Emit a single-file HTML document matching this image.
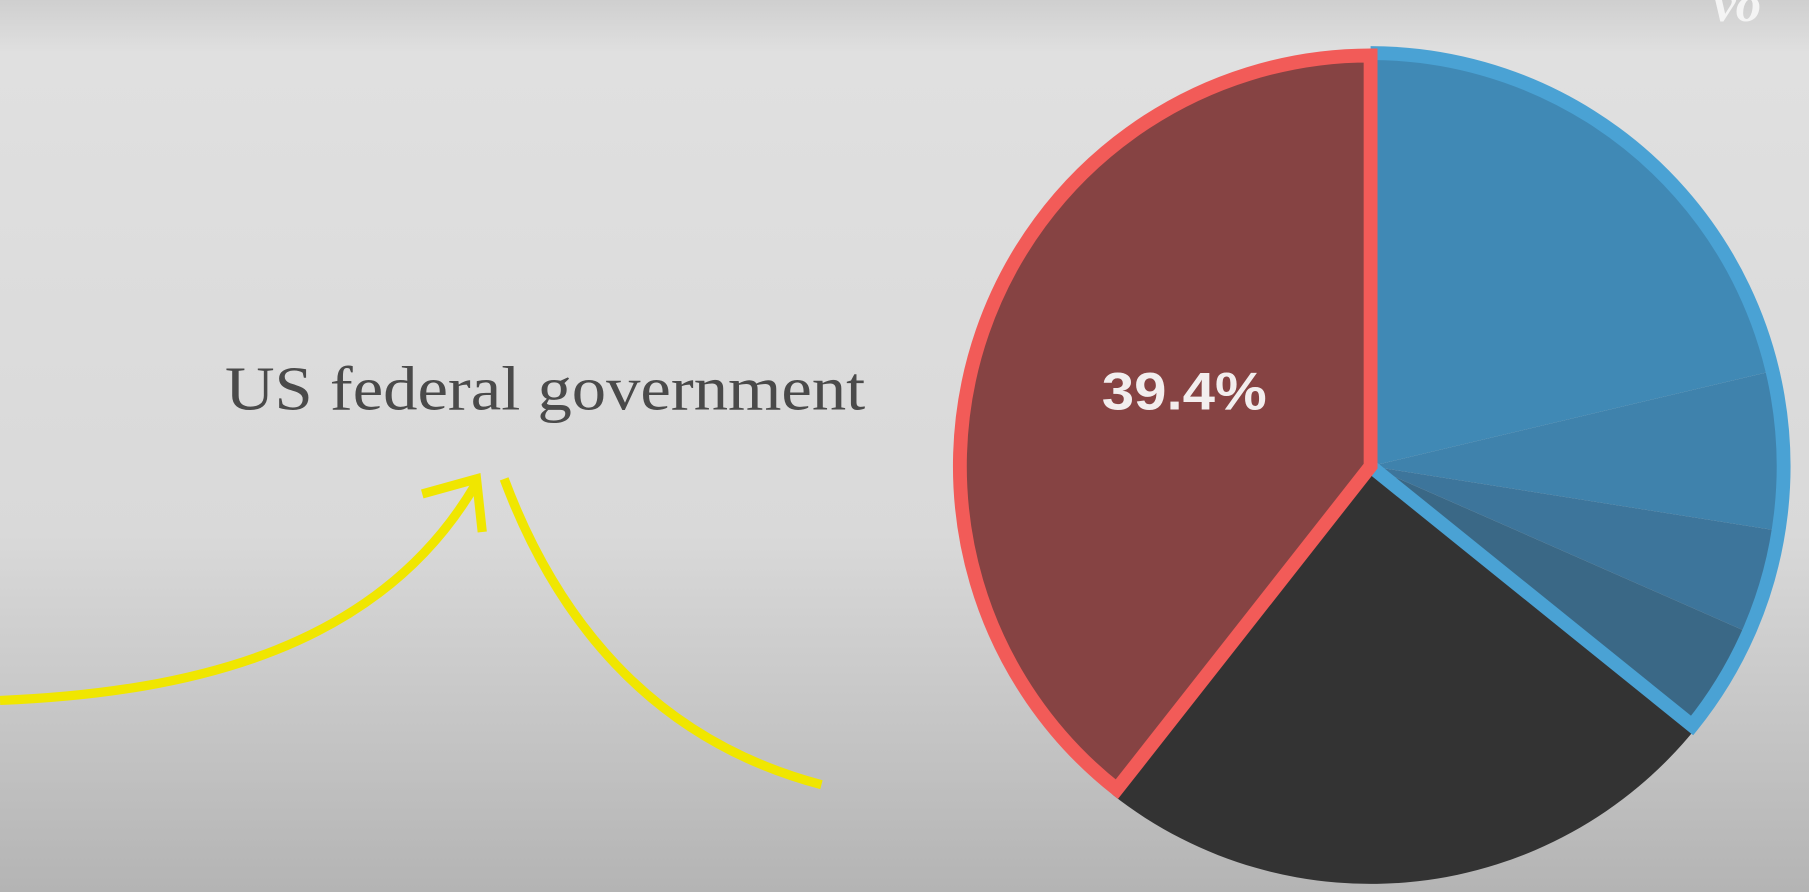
<!DOCTYPE html>
<html><head><meta charset="utf-8"><style>
html,body{margin:0;padding:0;width:1809px;height:892px;overflow:hidden;background:#d8d8d8;}
svg{display:block}
</style></head><body>
<svg width="1809" height="892" viewBox="0 0 1568 773" preserveAspectRatio="none" xmlns="http://www.w3.org/2000/svg">
<defs>
<linearGradient id="bg" x1="0" y1="0" x2="0" y2="1">
<stop offset="0" stop-color="#cfcfcf"/><stop offset="0.06" stop-color="#e0e0e0"/>
<stop offset="0.6" stop-color="#d9d9d9"/><stop offset="1" stop-color="#b4b4b4"/>
</linearGradient>
</defs>
<rect width="1568" height="773" fill="url(#bg)"/>
<text x="1485" y="18" font-family="Liberation Serif, serif" font-style="italic" font-weight="bold" font-size="44" fill="#f4f4f4">vo</text>
<text x="195" y="355" font-family="Liberation Serif, serif" font-size="54" fill="#4a4a4a" textLength="555" lengthAdjust="spacingAndGlyphs">US federal government</text>
<g fill="none" stroke="#f0e600" stroke-width="8" stroke-linecap="butt">
<path d="M0,607 C170,600 330,560 412,420"/>
<path d="M366,428 L413,415 L418,461"/>
<path d="M437,415 C480,530 560,640 712,680"/>
</g>
<g id="pie"></g>
<text x="955" y="355" font-family="Liberation Sans, sans-serif" font-weight="bold" font-size="46" fill="#f2eeee" textLength="143" lengthAdjust="spacingAndGlyphs">39.4%</text>
</svg>
<script>
const categories = ["US federal government","Foreign holders","Other A","Other B","Other C","Public (other)"];
const values = [39.4, 21.3, 6.2, 4.1, 4.2, 24.8];
const fills = ["#864343","#4089b5","#3f82ac","#3d759b","#3a6886","#333333"];
const cx=1188, cy=404, r=362;
const NS="http://www.w3.org/2000/svg";
const g=document.getElementById('pie');
const total=values.reduce((a,b)=>a+b,0);
function pt(deg,rr){const a=deg*Math.PI/180;return [cx+rr*Math.sin(a), cy-rr*Math.cos(a)];}
function arcPath(a0,a1,rr){const p0=pt(a0,rr),p1=pt(a1,rr);const large=Math.abs(a1-a0)>180?1:0;const sweep=a1>a0?1:0;
return `M${cx},${cy} L${p0[0]},${p0[1]} A${rr},${rr} 0 ${large} ${sweep} ${p1[0]},${p1[1]} Z`;}
const redAng=values[0]/total*360;
let start=0;
const angles=[];
for(let i=1;i<values.length;i++){const a=values[i]/total*360;angles.push([start,start+a]);start+=a;}
for(let i=1;i<values.length;i++){
  const p=document.createElementNS(NS,'path');
  p.setAttribute('d',arcPath(angles[i-1][0],angles[i-1][1],r));
  p.setAttribute('fill',fills[i]);
  
  
  g.appendChild(p);
}
const blueEnd=angles[3][1];
const bo=document.createElementNS(NS,'path');
const b0=pt(0,r-4), b1=pt(blueEnd,r-4);
bo.setAttribute('d',`M${b0[0]},${b0[1]} A${r-4},${r-4} 0 0 1 ${b1[0]},${b1[1]} L${cx},${cy}`);
bo.setAttribute('fill','none');bo.setAttribute('stroke','#4aa2d4');bo.setAttribute('stroke-width','12');


g.appendChild(bo);
const rp=document.createElementNS(NS,'path');
rp.setAttribute('d',arcPath(0,-redAng,r-6));
rp.setAttribute('fill',fills[0]);rp.setAttribute('stroke','#f25b58');rp.setAttribute('stroke-width','12');rp.setAttribute('stroke-linejoin','miter');


g.appendChild(rp);
</script>
</body></html>
